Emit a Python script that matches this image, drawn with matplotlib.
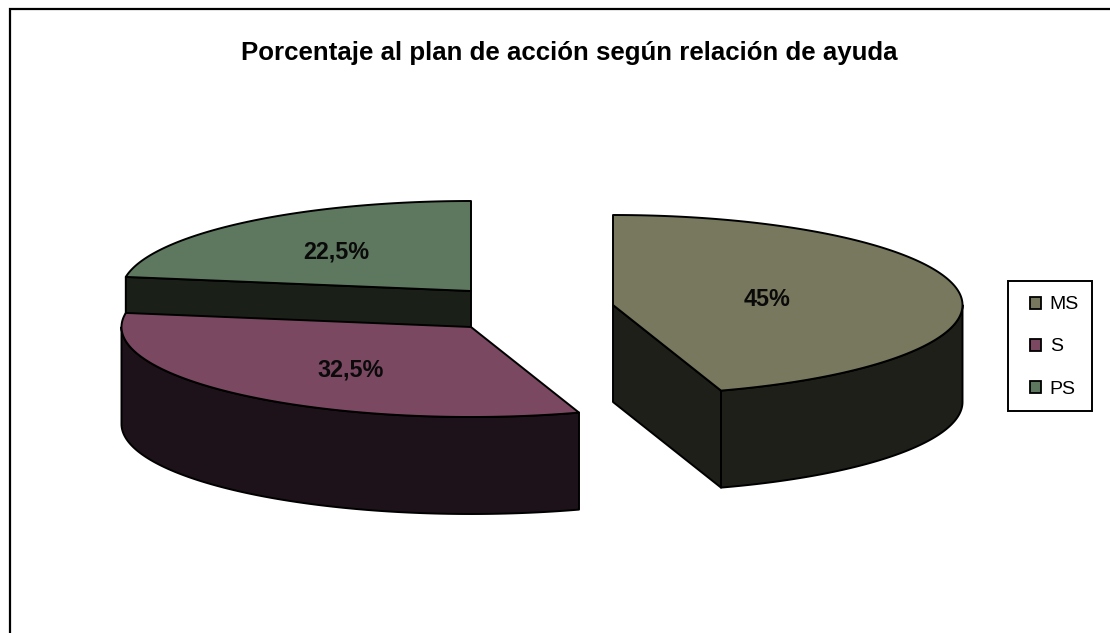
import numpy as np
import matplotlib
matplotlib.use("Agg")
import matplotlib.pyplot as plt
from matplotlib.patches import Polygon, Patch, Rectangle

plt.rcParams['font.family'] = ['Liberation Sans', 'DejaVu Sans']

title = "Porcentaje al plan de acción según relación de ayuda"
categories = ["MS", "S", "PS"]
values = [45, 32.5, 22.5]
value_labels = ["45%", "32,5%", "22,5%"]

top_colors = ["#78785E", "#7A4860", "#5E7860"]
side_colors = ["#1E1F18", "#1E121A", "#1A2018"]

# layout, in pixels of the 1110x633 picture
centers = [(613, 305), (471, 327), (471, 291)]
RX, RY, DEPTH = 349.5, 90, 97
label_radius = [0.445, 0.53, 0.594]
label_dy = [1, 7, 2]

fig = plt.figure(figsize=(11.1, 6.33), dpi=100, facecolor="white")
ax = fig.add_axes([0, 0, 1, 1])
ax.set_xlim(0, 1110)
ax.set_ylim(633, 0)
ax.axis("off")

# chart border: only top and left are inside the crop
ax.plot([9.5, 9.5, 1110], [633, 8.5, 8.5], color="black", lw=1.6, solid_capstyle="butt",
        solid_joinstyle="miter")

ax.text(569.5, 53, title, ha="center", va="center", fontsize=18.6, fontweight="bold", color="black")


def ell(c, deg):
    t = np.radians(deg)
    return np.column_stack([c[0] + RX * np.sin(t), c[1] - RY * np.cos(t)])


def draw_slice(i, a0, a1, z):
    c = centers[i]
    arc = ell(c, np.linspace(a0, a1, 200))
    kw = dict(edgecolor="black", lw=1.4, joinstyle="round", zorder=z)
    down = np.array([0, DEPTH])
    # flat cut faces seen from the front
    for ang in (a0, a1):
        p = ell(c, np.array([ang]))[0]
        visible = (ang <= 180 and ang == a1) or (ang >= 180 and ang == a0)
        if visible:
            face = np.array([c, p, p + down, np.array(c) + down])
            ax.add_patch(Polygon(face, closed=True, facecolor=side_colors[i], **kw))
    # outer rim, front half of the ellipse
    lo, hi = max(a0, 90), min(a1, 270)
    if hi > lo:
        rim = ell(c, np.linspace(lo, hi, 200))
        ax.add_patch(Polygon(np.vstack([rim, rim[::-1] + down]), closed=True,
                             facecolor=side_colors[i], **kw))
    ax.add_patch(Polygon(np.vstack([[c], arc]), closed=True, facecolor=top_colors[i], **kw))


shares = np.array(values) / np.sum(values) * 360
starts = np.concatenate([[0], np.cumsum(shares)[:-1]])
for i in (2, 1, 0):
    draw_slice(i, starts[i], starts[i] + shares[i], z=2 + (2 - i))
    mid = np.radians(starts[i] + shares[i] / 2)
    ax.text(centers[i][0] + label_radius[i] * RX * np.sin(mid),
            centers[i][1] - label_radius[i] * RY * np.cos(mid) + label_dy[i],
            value_labels[i], ha="center", va="center", fontsize=16.8, fontweight="bold",
            color="#0A0A0A", zorder=10)

ax.add_patch(Rectangle((1008, 281), 84, 130, facecolor="white", edgecolor="black", lw=1.4, zorder=5))
handles = [Patch(facecolor=col, edgecolor="black", lw=1.3) for col in top_colors]
leg = ax.legend(handles, categories, loc="center left", bbox_to_anchor=(1030, 347),
                bbox_transform=ax.transData, fontsize=14, frameon=False,
                handlelength=0.57, handleheight=0.57, handletextpad=0.45,
                labelspacing=1.29, borderpad=0, borderaxespad=0)
leg.set_zorder(6)

fig.savefig("out.png", dpi=100, facecolor="white")
